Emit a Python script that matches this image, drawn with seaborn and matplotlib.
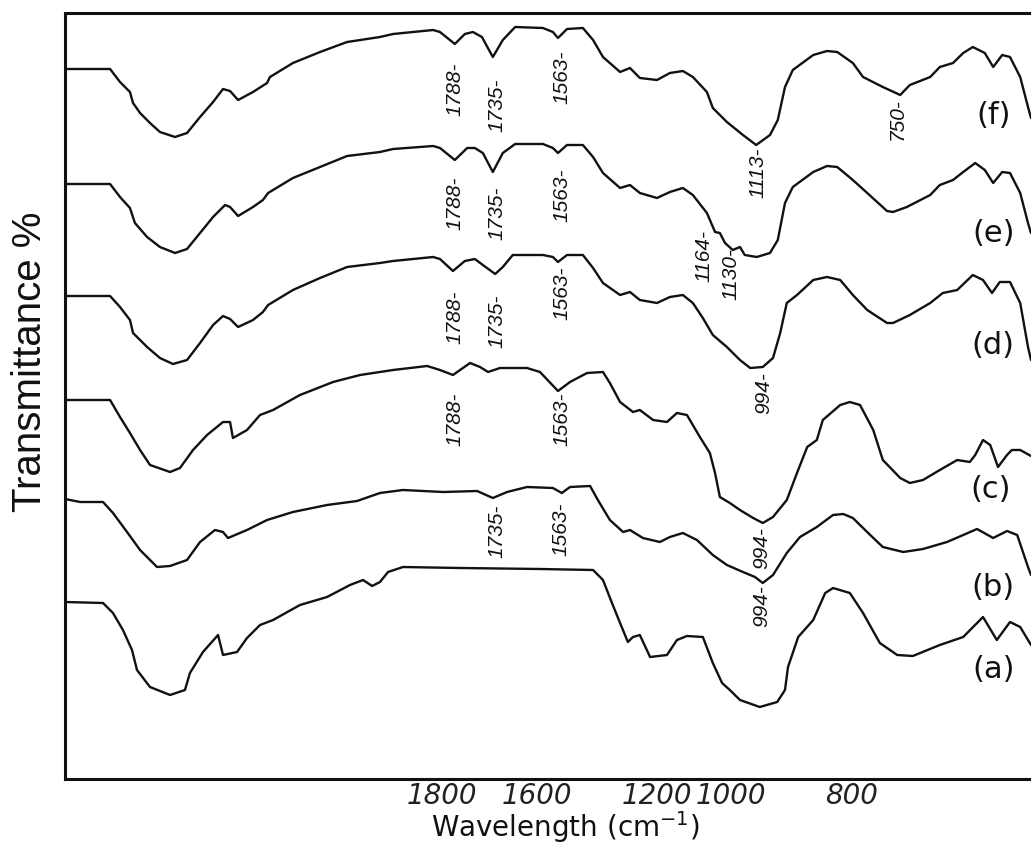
import numpy as np
import pandas as pd
import seaborn as sns
import matplotlib
matplotlib.use("Agg")
import matplotlib.pyplot as plt


# ------------------------------------------------------------------------------
# 1) FTIR spectra
#    wavenumber in cm-1, transmittance in arbitrary (stacked) units
# ------------------------------------------------------------------------------

wn_a = [4000, 3778, 3720, 3662, 3609, 3580, 3504, 3387, 3300, 3271, 3195, 3107, 3078, 2996, 2938,
        2862, 2786, 2629, 2471, 2337, 2261, 2208, 2162, 2115, 2028, 1762, 1590, 1413, 1380, 1350,
        1323, 1297, 1280, 1257, 1223, 1173, 1146, 1119, 1076, 1049, 1024, 1003, 985, 952, 923,
        910, 905, 888, 863, 843, 830, 802, 780, 752, 723, 697, 652, 613, 580, 557, 535, 518, 500]
t_a = [88.5, 88, 83, 74.5, 64.5, 54.5, 46, 42, 44.5, 53, 63.5, 72, 62, 63.5, 70.5,
       77, 79.5, 87, 91, 97, 99.5, 96.5, 98.5, 103.5, 106, 105.5, 105, 104.5, 99.5, 88,
       78, 68.5, 71, 72, 61, 62, 69.5, 71.5, 71, 58, 48, 44.5, 39.5, 36, 38.5,
       44.5, 56, 71, 79.5, 93, 95.5, 93, 83, 68, 62, 61.5, 67, 71, 81, 69.5, 78.5, 76, 67]

wn_b = [4000, 3912, 3778, 3720, 3638, 3562, 3463, 3387, 3288, 3212, 3125, 3078, 3049, 2938, 2821,
        2670, 2471, 2296, 2162, 2028, 1798, 1726, 1693, 1663, 1621, 1547, 1517, 1490, 1423, 1397,
        1357, 1313, 1290, 1247, 1192, 1165, 1130, 1092, 1049, 1011, 980, 960, 947, 930, 907,
        885, 857, 830, 813, 797, 768, 747, 713, 680, 640, 613, 590, 563, 540, 523, 505, 500]
t_b = [140, 138.5, 138.5, 133, 123.5, 114.5, 106, 106.5, 109.5, 118.5, 124.5, 123.5, 120.5, 124.5, 129.5,
       133.5, 137, 139, 143, 144.5, 143.5, 144, 140.5, 143.5, 146, 145.5, 143, 146, 146.5, 139.5,
       129.5, 123.5, 124.5, 120.5, 118.5, 121, 123, 119.5, 112, 107, 103.5, 101, 98, 102, 113,
       121, 126, 132, 132.5, 130.5, 122, 116, 113.5, 115, 118.5, 122, 125, 120.5, 124, 122, 106, 102]

wn_c = [4000, 3737, 3679, 3621, 3562, 3504, 3387, 3329, 3253, 3171, 3078, 3037, 3020, 2938, 2862,
        2786, 2629, 2436, 2278, 2086, 1887, 1812, 1777, 1741, 1720, 1703, 1678, 1621, 1590, 1530,
        1490, 1433, 1380, 1357, 1323, 1280, 1257, 1213, 1173, 1146, 1119, 1084, 1057, 1043, 1030,
        1003, 985, 963, 947, 930, 907, 890, 873, 857, 847, 818, 802, 785, 763, 747,
        718, 702, 680, 652, 623, 602, 593, 580, 568, 555, 540, 532, 518, 500]
t_c = [189.5, 189.5, 181, 173, 164.5, 157, 153.5, 155.5, 164.5, 172, 178.5, 178.5, 170.5, 174.5, 182,
       184.5, 192, 198.5, 202, 204.5, 206.5, 204.5, 202, 208, 206, 203.5, 205.5, 205.5, 203.5, 194,
       198.5, 203, 203.5, 198, 188.5, 183.5, 184.5, 179.5, 178.5, 183, 182, 171, 163, 153, 141,
       138, 134.5, 130.5, 128, 131, 139.5, 153, 166, 169.5, 179.5, 187, 188.5, 187, 174.5, 159.5,
       150.5, 148, 149.5, 154.5, 159.5, 158.5, 162, 169.5, 167, 156, 162, 164.5, 164.5, 161.5]

wn_d = [4000, 3737, 3679, 3621, 3603, 3521, 3446, 3370, 3288, 3212, 3136, 3078, 3037, 2990, 2903,
        2845, 2815, 2670, 2512, 2354, 2162, 2086, 1852, 1812, 1777, 1752, 1731, 1714, 1688, 1672,
        1651, 1580, 1547, 1530, 1500, 1447, 1413, 1380, 1323, 1290, 1257, 1200, 1165, 1130, 1103,
        1076, 1049, 1011, 985, 968, 947, 930, 918, 907, 890, 863, 840, 818, 797, 773,
        740, 730, 702, 668, 647, 623, 597, 580, 565, 552, 535, 518, 505, 500]
t_d = [241.5, 241.5, 236, 229.5, 223, 216, 210.5, 207.5, 209.5, 218, 227, 231.5, 230, 226, 229.5,
       233.5, 237, 244.5, 250.5, 256, 258, 259, 261, 260, 254, 259, 260, 257, 252.5, 256,
       262, 262, 261, 258.5, 262, 262, 255.5, 248, 242, 243.5, 239.5, 238, 241, 242, 238,
       230.5, 222, 216, 209.5, 205.5, 206, 210.5, 223, 238, 242, 249.5, 251, 249.5, 242, 234.5,
       228, 228, 232, 238, 243, 244.5, 252, 249.5, 243, 248.5, 248.5, 238, 216, 209.5]

wn_e = [4000, 3737, 3679, 3621, 3592, 3521, 3446, 3358, 3288, 3212, 3136, 3066, 3037, 2990, 2903,
        2845, 2815, 2670, 2512, 2354, 2162, 2086, 1852, 1812, 1773, 1747, 1731, 1714, 1693, 1672,
        1646, 1580, 1547, 1530, 1500, 1447, 1413, 1380, 1323, 1290, 1257, 1200, 1165, 1130, 1103,
        1065, 1043, 1030, 1016, 997, 985, 977, 957, 935, 922, 910, 897, 863, 840, 823,
        797, 773, 740, 730, 707, 668, 652, 630, 613, 593, 577, 563, 548, 535, 518, 505, 500]
t_e = [297.5, 297.5, 291, 285.5, 278, 271, 266, 263, 265, 273, 281, 287, 286, 281.5, 286,
       289.5, 293, 300.5, 306, 311.5, 313.5, 315, 316.5, 315.5, 309.5, 315.5, 315.5, 313, 303.5, 313,
       317.5, 317.5, 315.5, 313, 317, 317, 311, 303, 295.5, 297, 293, 290.5, 293.5, 295.5, 292,
       283, 273.5, 273, 268, 264.5, 266, 262, 261, 263, 269.5, 288, 296, 303.5, 306.5, 306,
       299.5, 293, 284, 283.5, 286, 292, 297, 299.5, 303.5, 308, 304.5, 298, 303.5, 303, 293, 278, 273]

wn_f = [4000, 3737, 3679, 3621, 3603, 3562, 3504, 3446, 3358, 3288, 3212, 3136, 3078, 3037, 2990,
        2903, 2821, 2804, 2670, 2512, 2354, 2162, 2086, 1852, 1812, 1773, 1752, 1735, 1716, 1693,
        1672, 1646, 1580, 1547, 1530, 1500, 1447, 1413, 1380, 1323, 1290, 1257, 1200, 1165, 1130,
        1103, 1065, 1049, 1011, 980, 958, 935, 922, 910, 897, 863, 840, 823, 797, 780,
        747, 718, 702, 668, 652, 630, 613, 597, 577, 563, 548, 535, 518, 505, 500]
t_f = [355, 355, 348.5, 343.5, 338, 333, 328, 323.5, 321, 323, 331, 338.5, 345, 344, 339.5,
       343.5, 348, 351, 358, 363.5, 368.5, 371, 372.5, 374.5, 373.5, 367.5, 372.5, 373.5, 371, 361,
       369.5, 376, 375.5, 373.5, 370.5, 375, 375.5, 369.5, 361, 353.5, 355.5, 350.5, 349.5, 353, 354,
       351, 343.5, 335.5, 328.5, 322, 317, 322, 329.5, 346, 354.5, 362, 364, 363.5, 358, 351,
       346, 342, 347, 351, 356, 358, 363, 366, 363, 356, 362, 361, 351, 336, 330.5]

samples = ["(a)", "(b)", "(c)", "(d)", "(e)", "(f)"]
spectra = [(wn_a, t_a), (wn_b, t_b), (wn_c, t_c), (wn_d, t_d), (wn_e, t_e), (wn_f, t_f)]

tick_values = [1800, 1600, 1200, 1000, 800]
tick_labels = ["1800", "1600", "1200", "1000", "800"]

# band labels written under the dips: (text, wavenumber, top of text)
peak_marks = [
    ("1788-", 1773, 358), ("1735-", 1684, 350.5), ("1563-", 1517, 364.5), ("1113-", 955, 315.5), ("750-", 722, 340.5),
    ("1788-", 1773, 301), ("1735-", 1684, 296), ("1563-", 1517, 305.5), ("1164-", 1073, 274.5), ("1130-", 1000, 265.5),
    ("1788-", 1773, 244.5), ("1735-", 1684, 242), ("1563-", 1517, 256), ("994-", 945, 203.5),
    ("1788-", 1773, 193.5), ("1563-", 1517, 193), ("994-", 948, 126),
    ("1735-", 1684, 137), ("1563-", 1520, 138), ("994-", 948, 97),
]
# sample tags at the right edge
tag_pos = [(563, 54.5), (563, 96), (567, 145), (563, 217), (563, 273), (563, 332)]

df = pd.concat([pd.DataFrame({"wavenumber": w, "T": t, "sample": s})
                for s, (w, t) in zip(samples, spectra)], ignore_index=True)


# ------------------------------------------------------------------------------
# 2) Plot
# ------------------------------------------------------------------------------
sns.set_style("white")
plt.rcParams["font.family"] = ["DejaVu Sans"]

fig = plt.figure(figsize=(10.31, 8.47), dpi=100)
ax = fig.add_axes([65 / 1031, 68 / 847, 966 / 1031, 766 / 847])

sns.lineplot(data=df, x="wavenumber", y="T", units="sample", estimator=None, sort=False,
             color="#111111", linewidth=1.7, legend=False, ax=ax)

# the original axis is not linear: piecewise mapping through the tick positions
scale_wn = np.array([500, 800, 1000, 1200, 1600, 1800, 4000])
scale_pos = np.array([0.0, 0.1863, 0.3106, 0.3872, 0.5114, 0.6097, 1.0])
ax.set_xscale("function", functions=(lambda x: np.interp(x, scale_wn, scale_pos),
                                     lambda p: np.interp(p, scale_pos, scale_wn)))
ax.set_xlim(4000, 500)
ax.set_ylim(0, 383)

ax.set_xticks(tick_values, tick_labels, fontstyle="italic", fontsize=20, color="#222222")
ax.set_yticks([])
ax.tick_params(axis="x", direction="in", length=5, width=1.6, pad=2, color="#222222")
ax.minorticks_off()

for side in ["left", "bottom", "top"]:
    ax.spines[side].set_linewidth(2.2)
    ax.spines[side].set_color("#111111")
ax.spines["right"].set_visible(False)

ax.set_xlabel("Wavelength (cm$^{-1}$)", fontsize=20, color="#111111")
ax.xaxis.set_label_coords(0.5176, -0.063)
ax.xaxis.label.set_va("center")
ax.set_ylabel("Transmittance %", fontsize=29, color="#111111", family=["Liberation Sans", "DejaVu Sans"])
ax.yaxis.set_label_coords(-0.0362, 0.5444)
ax.yaxis.label.set_va("center")

for text, wn, top in peak_marks:
    ax.text(wn, top, text, rotation=90, ha="center", va="top", fontsize=15, fontstyle="italic",
            family=["Liberation Sans Narrow", "Liberation Sans", "DejaVu Sans"], color="#111111")

for name, (wn, y) in zip(samples, tag_pos):
    ax.text(wn, y, name, ha="center", va="center", fontsize=22, color="#111111")

fig.savefig("out.png", dpi=100)
